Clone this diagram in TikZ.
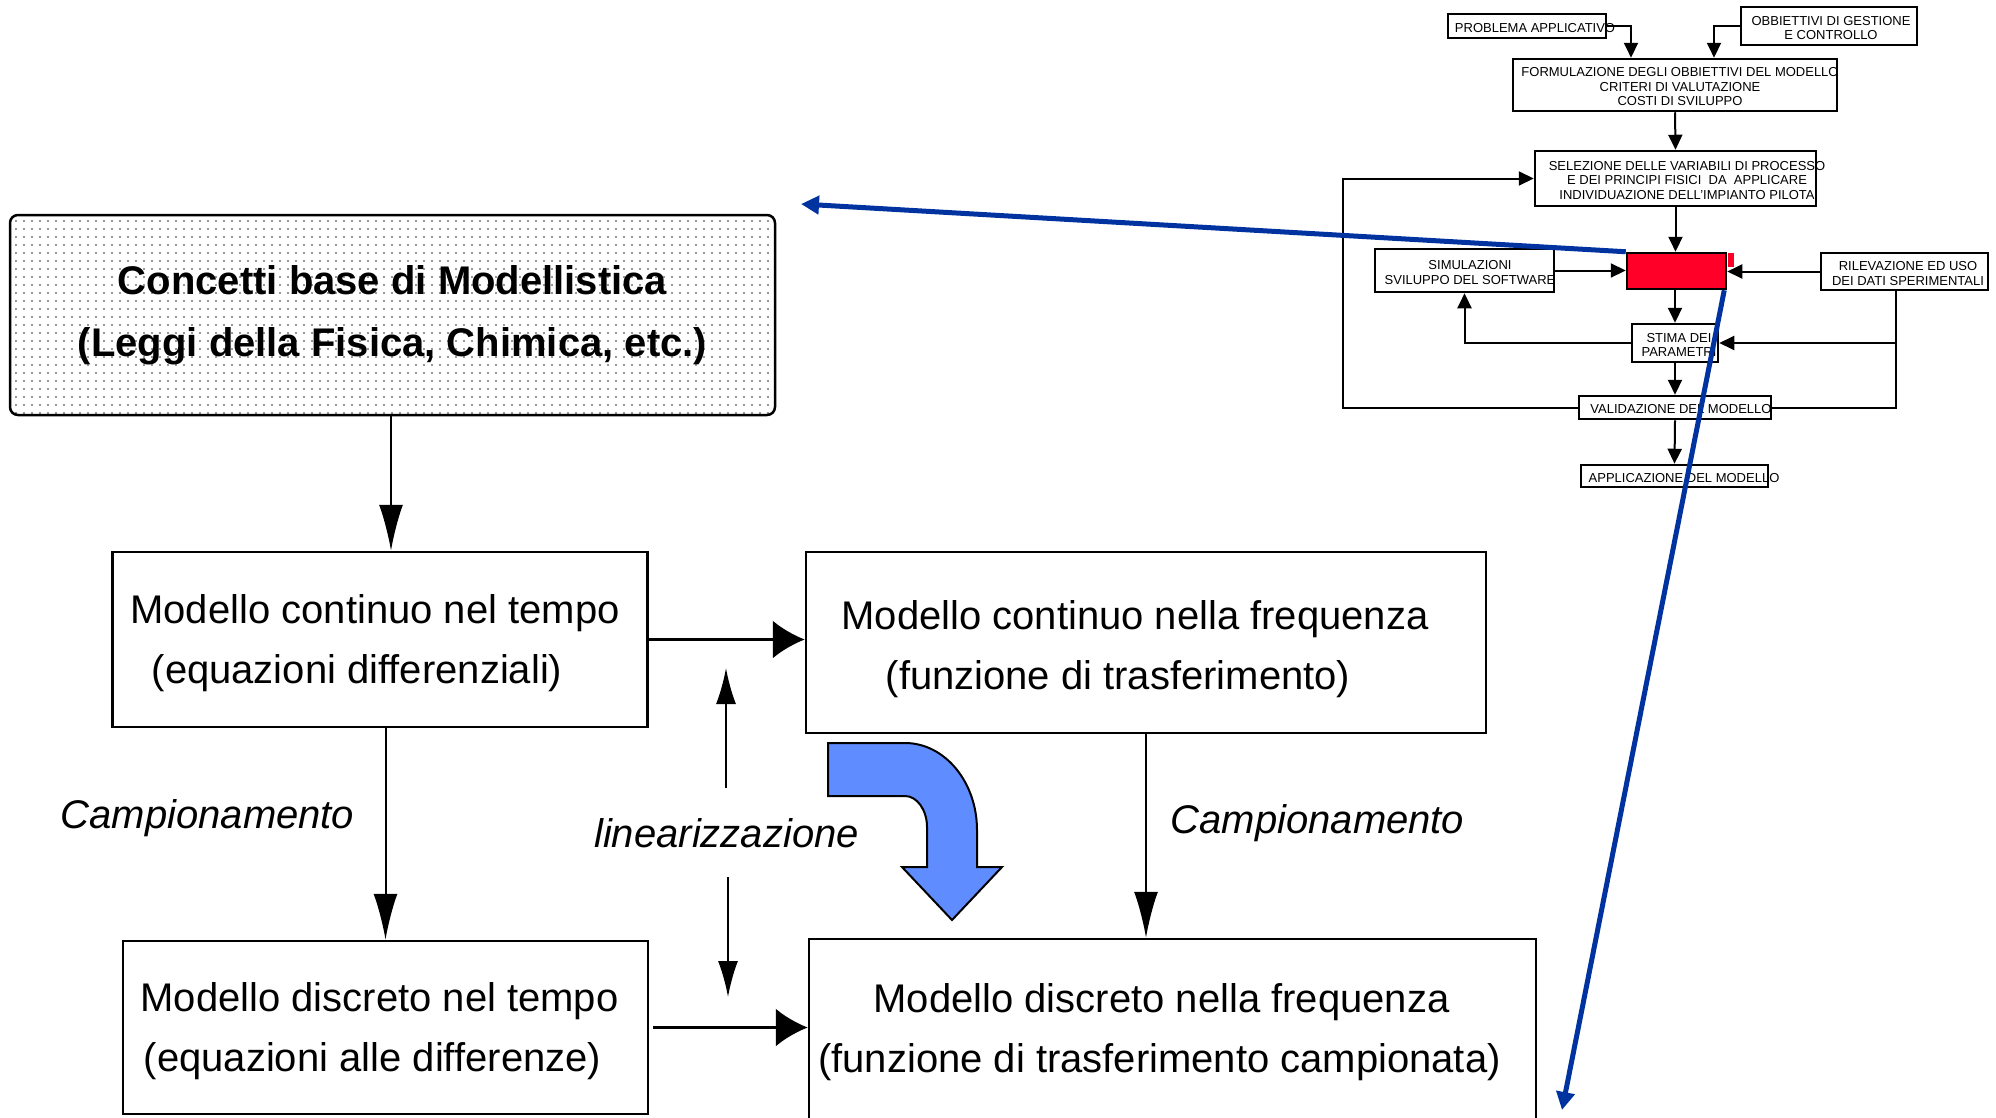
\documentclass[tikz,border=0pt]{standalone}
\usepackage{fontspec}
\setmainfont{Liberation Sans}
\usetikzlibrary{positioning, arrows.meta, patterns.meta}

\definecolor{pointblue}{RGB}{0,51,160}
\definecolor{bentblue}{RGB}{95,141,255}
\definecolor{alarm}{RGB}{255,0,40}

% testo centrato che puo' uscire dal riquadro
\newcommand{\ovr}[2][0pt]{\makebox[0pt]{\hspace*{#1}\raisebox{-6.5pt}[0pt][0pt]{\begin{tabular}{@{}c@{}}#2\end{tabular}}}}

\begin{document}
\begin{tikzpicture}[x=1pt, y=-1pt]
    \useasboundingbox (0,0) rectangle (1996,1117);
    % Stili
    \tikzstyle{model} = [draw, line width=2.5pt, align=center, inner sep=0pt, font=\fontsize{40}{60}\selectfont]
    \tikzstyle{concept} = [draw, line width=2.5pt, rounded corners=8pt, pattern={Dots[distance=8pt, radius=1.1pt]}, pattern color=black!55, align=center, inner sep=0pt, font=\bfseries\fontsize{40}{62}\selectfont]
    \tikzstyle{note} = [anchor=base, inner sep=0pt, font=\itshape\fontsize{40}{48}\selectfont]
    \tikzstyle{phase} = [draw, line width=2.5pt, fill=white, inner sep=0pt, font=\fontsize{13}{14.5}\selectfont]
    \tikzstyle{flow} = [line width=2pt, -{Triangle[length=15pt, width=14pt]}]
    \tikzstyle{link} = [line width=2pt]
    \tikzstyle{bigdown} = [line width=2pt, -{Latex[length=46pt, width=24pt]}]
    \tikzstyle{bigright} = [line width=3pt, -{Latex[length=32pt, width=38pt]}]
    \tikzstyle{lin} = [line width=2pt, -{Latex[length=36pt, width=20pt]}]
    \tikzstyle{bent} = [draw, line width=2pt, fill=bentblue]
    \tikzstyle{pointer} = [draw=pointblue, line width=5pt, -{Triangle[length=18pt, width=18pt]}]

    % Nodi - schema dei modelli
    \node [concept, minimum width=765pt, minimum height=200pt] (base) at (392.5,315) {Concetti base di Modellistica\\(Leggi della Fisica, Chimica, etc.)};
    \node [model, minimum width=535pt, minimum height=175pt] (ct) at (380,639.5) {\rule{0pt}{36pt}Modello continuo nel tempo\hspace*{10pt}\\(equazioni differenziali)\hspace*{46pt}};
    \node [model, minimum width=680pt, minimum height=181pt] (cf) at (1146,642.5) {\rule{0pt}{43pt}Modello continuo nella frequenza\hspace*{22pt}\\(funzione di trasferimento)\hspace*{56pt}};
    \node [model, minimum width=525pt, minimum height=173pt] (dt) at (385.5,1027.5) {\rule{0pt}{36pt}Modello discreto nel tempo\hspace*{12pt}\\(equazioni alle differenze)\hspace*{26pt}};
    \node [model, minimum width=727pt, minimum height=186pt] (df) at (1172.5,1032) {Modello discreto nella frequenza\hspace*{22pt}\\(funzione di trasferimento campionata)\hspace*{26pt}};
    \node [note] (campl) at (207.5,828) {Campionamento};
    \node [note] (campr) at (1317.5,833) {Campionamento};
    \node [note] (lin) at (726.5,847) {linearizzazione};
    \coordinate (linA) at (726,788);
    \coordinate (linB) at (726,668);
    \coordinate (linC) at (728,877);
    \coordinate (linD) at (728,997);

    % Collegamenti - schema dei modelli
    \draw [bigdown] ([xshift=-1.5pt]base.south) -- ([xshift=-1.5pt]base.south |- ct.north);
    \draw [bigright] (ct.east) -- (ct.east -| cf.west);
    \draw [bigdown] (ct.south -| dt.north) -- (dt.north);
    \draw [bigdown] (cf.south) -- (cf.south |- df.north);
    \draw [bigright] ([xshift=4pt]dt.east) -- (dt.east -| df.west);
    \draw [lin] (linA) -- (linB);
    \draw [lin] (linC) -- (linD);

    % Freccia curva
    \draw [bent] (828,743) -- (905,743) .. controls (944.7,743) and (977,782) .. (977,830)
        -- (977,867) -- (1002,867) -- (952,920) -- (902,867) -- (927,867) -- (927,827)
        .. controls (927,810) and (917,796) .. (905,796) -- (828,796) -- cycle;

    % Nodi - procedura di modellazione
    \node [phase, minimum width=158pt, minimum height=24pt] (prob) at (1527,26) {\ovr[16pt]{PROBLEMA APPLICATIVO}};
    \node [phase, minimum width=176pt, minimum height=38pt] (obb) at (1829,26) {\ovr[4pt]{OBBIETTIVI DI GESTIONE\\E CONTROLLO}};
    \node [phase, minimum width=324pt, minimum height=52pt] (form) at (1675,85) {\ovr[10pt]{FORMULAZIONE DEGLI OBBIETTIVI DEL MODELLO\\CRITERI DI VALUTAZIONE\\COSTI DI SVILUPPO}};
    \node [phase, minimum width=281pt, minimum height=55pt] (sel) at (1675.5,178.5) {\ovr[23pt]{SELEZIONE DELLE VARIABILI DI PROCESSO\\E DEI PRINCIPI FISICI\ \ DA\ \ APPLICARE\\INDIVIDUAZIONE DELL'IMPIANTO PILOTA}};
    \node [phase, minimum width=179pt, minimum height=43pt] (sim) at (1464.5,270.5) {\ovr[11pt]{SIMULAZIONI\\SVILUPPO DEL SOFTWARE}};
    \node [phase, fill=alarm, minimum width=99pt, minimum height=36pt] (red) at (1676.5,271) {};
    \fill [alarm] ([xshift=1.2pt, yshift=-1pt]red.north east) rectangle ++(6,14);
    \node [phase, minimum width=167pt, minimum height=37pt] (ril) at (1904.5,271.5) {\ovr[7pt]{RILEVAZIONE ED USO\\DEI DATI SPERIMENTALI}};
    \node [phase, minimum width=86pt, minimum height=38pt] (stima) at (1675,343) {\ovr[8pt]{STIMA DEI\\PARAMETRI}};
    \node [phase, minimum width=192pt, minimum height=23pt] (val) at (1675,407.5) {\ovr[12pt]{VALIDAZIONE DEL MODELLO}};
    \node [phase, minimum width=187pt, minimum height=22pt] (app) at (1674.5,476) {\ovr[19pt]{APPLICAZIONE DEL MODELLO}};

    % Collegamenti - procedura di modellazione
    \draw [flow] (prob.east) -| ([xshift=-44pt]form.north);
    \draw [flow] (obb.west) -| ([xshift=39pt]form.north);
    \draw [flow] (form.south) -- (sel.north);
    \draw [flow] (sel.south) -- (sel.south |- red.north);
    \draw [flow] (sim.east) -- (sim.east -| red.west);
    \draw [flow] (ril.west) -- (ril.west -| red.east);
    \draw [flow] (stima.north |- red.south) -- (stima.north);
    \draw [flow] (stima.west) -| (sim.south);
    \draw [flow] ([xshift=-9pt]ril.south) |- (stima.east);
    \draw [link] ([xshift=-9pt]ril.south) |- (val.east);
    \draw [flow] (stima.south) -- (val.north);
    \draw [flow] (val.west) -- ++(-235,0) |- (sel.west);
    \draw [flow] (val.south) -- (app.north);

    % Frecce blu
    \coordinate (tipA) at (801,204);
    \coordinate (tipB) at (1562,1110);
    \draw [pointer] (red.north west) -- (tipA);
    \draw [pointer] ([xshift=-3pt]red.south east) -- (tipB);
\end{tikzpicture}
\end{document}
